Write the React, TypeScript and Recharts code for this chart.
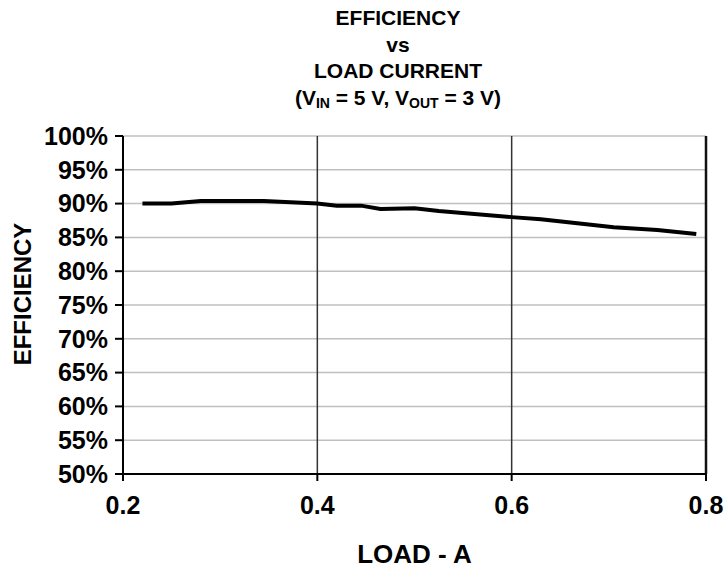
import { CartesianGrid, Label, Line, LineChart, ReferenceLine, XAxis, YAxis } from "recharts";

const FONT = "'Liberation Sans', Arial, Helvetica, sans-serif";

// load current (A) vs efficiency (%)
const loadA = [0.22, 0.25, 0.28, 0.345, 0.4, 0.42, 0.445, 0.465, 0.5, 0.525, 0.6, 0.63, 0.705, 0.75, 0.79];
const efficiency = [90.0, 90.0, 90.4, 90.4, 90.0, 89.7, 89.7, 89.2, 89.3, 88.9, 88.0, 87.7, 86.5, 86.1, 85.5];

const xTicks = [0.2, 0.4, 0.6, 0.8];
const yTicks = [50, 55, 60, 65, 70, 75, 80, 85, 90, 95, 100];
const X_MAX = 0.8;

const data = loadA.map((x, i) => ({ x, eff: efficiency[i] }));

const tickStyle = { fontSize: 25, fontWeight: 700, fill: "#000", fontFamily: FONT };

/** Rotated y title, nudged a little above the plot centre like the original. */
function YTitle({ viewBox }: { viewBox?: { x: number; y: number; width: number; height: number } }) {
  if (!viewBox) return null;
  const cx = viewBox.x + 22;
  const cy = viewBox.y + viewBox.height / 2 - 11;
  return (
    <text
      x={cx}
      y={cy}
      transform={`rotate(-90 ${cx} ${cy})`}
      textAnchor="middle"
      dominantBaseline="central"
      fontSize={24}
      fontWeight={700}
      fontFamily={FONT}
      fill="#000"
    >
      EFFICIENCY
    </text>
  );
}

export default function App() {
  return (
    <div style={{ position: "absolute", left: 0, top: 0, width: 727, height: 569, background: "#fff" }}>
      <div
        style={{
          position: "absolute",
          left: 198,
          width: 400,
          top: 5,
          textAlign: "center",
          fontFamily: FONT,
          fontWeight: 700,
          fontSize: 21,
          lineHeight: "26.5px",
          color: "#000",
        }}
      >
        <div>EFFICIENCY</div>
        <div>vs</div>
        <div>LOAD CURRENT</div>
        <div>
          (V<sub style={{ fontSize: 14, verticalAlign: "-3px" }}>IN</sub> = 5 V, V
          <sub style={{ fontSize: 14, verticalAlign: "-3px" }}>OUT</sub> = 3 V)
        </div>
      </div>
      <LineChart width={727} height={569} data={data} margin={{ top: 136, right: 21, bottom: 0, left: 0 }}>
        <CartesianGrid stroke="#c0c0c0" strokeWidth={1.5} vertical={false} />
        <CartesianGrid stroke="#333" strokeWidth={1.5} horizontal={false} />
        {/* the plot's right edge (0.8) is a dark frame line in the original */}
        <ReferenceLine x={X_MAX} stroke="#111" strokeWidth={2.5} ifOverflow="visible" />
        <XAxis
          dataKey="x"
          type="number"
          domain={[0.2, X_MAX]}
          ticks={xTicks}
          tickFormatter={(v: number) => v.toFixed(1)}
          height={95}
          tick={tickStyle}
          tickSize={7}
          tickMargin={15}
          axisLine={{ stroke: "#000", strokeWidth: 2 }}
          tickLine={{ stroke: "#000", strokeWidth: 2 }}
        >
          <Label
            value="LOAD - A"
            position="insideBottom"
            offset={6}
            style={{ fontSize: 26, fontWeight: 700, fill: "#000", fontFamily: FONT }}
          />
        </XAxis>
        <YAxis
          type="number"
          domain={[50, 100]}
          ticks={yTicks}
          tickFormatter={(v: number) => `${v}%`}
          width={123}
          tick={tickStyle}
          tickSize={8}
          tickMargin={7}
          axisLine={{ stroke: "#000", strokeWidth: 2 }}
          tickLine={{ stroke: "#000", strokeWidth: 2 }}
        >
          <Label content={<YTitle />} />
        </YAxis>
        <Line
          dataKey="eff"
          type="linear"
          stroke="#000"
          strokeWidth={4}
          dot={false}
          activeDot={false}
          isAnimationActive={false}
        />
      </LineChart>
    </div>
  );
}
